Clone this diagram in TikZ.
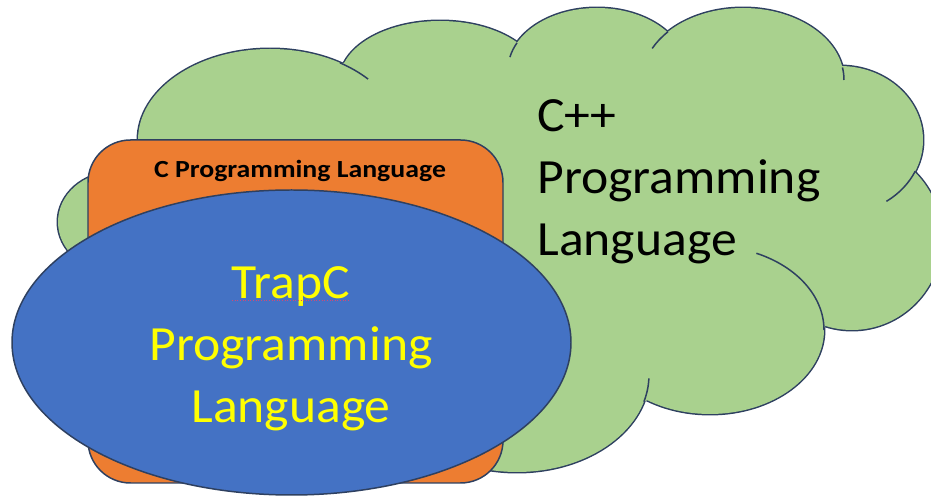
\documentclass[tikz,border=0pt]{standalone}
\usepackage{fontspec}
\setmainfont{Carlito}
\newfontfamily\widefont{Carlito}[FakeStretch=1.05]
\newfontfamily\widerfont{Carlito}[FakeStretch=1.13]
\usepackage{tikz}
\usetikzlibrary{positioning}
\definecolor{puffgreen}{HTML}{A9D18E}
\definecolor{boxorange}{HTML}{ED7D31}
\definecolor{ovalblue}{HTML}{4472C4}
\definecolor{edgenavy}{HTML}{2E4060}
\definecolor{trapyellow}{HTML}{FFFF00}
\definecolor{spellred}{HTML}{D04A78}

\begin{document}
\begin{tikzpicture}[x=0.02cm, y=-0.02cm,
    outline/.style={draw=edgenavy, line width=0.85pt},
    bigtext/.style={font=\widefont\fontsize{28}{35.3}\selectfont, inner sep=0pt}]
    \useasboundingbox (0,0) rectangle (931,496);

    % Cloud puffs: stroke them all first, the fills then hide the inner strokes
    \foreach \cx/\cy/\rx/\ry in {270/140/132/91, 440/80/100/59, 597/70/89/62, 743/80/101/72,
                                 840/140/83/74, 852/238/90/92, 710/330/114/84, 517/375/132/97,
                                 115/222/57/50} {
        \draw[edgenavy, line width=1.7pt] (\cx,\cy) ellipse [x radius=\rx, y radius=\ry];
    }
    \fill[puffgreen] (138,140) -- (346,62) -- (518,43) -- (668,32) -- (843,68) -- (915,172)
        -- (823,330) -- (643,402) -- (517,470) -- (300,420) -- (70,248) -- (90,177) -- cycle;
    \foreach \cx/\cy/\rx/\ry in {270/140/132/91, 440/80/100/59, 597/70/89/62, 743/80/101/72,
                                 840/140/83/74, 852/238/90/92, 710/330/114/84, 517/375/132/97,
                                 115/222/57/50} {
        \fill[puffgreen] (\cx,\cy) ellipse [x radius=\rx, y radius=\ry];
    }

    % Short inner arcs where the puffs overlap
    \foreach \cx/\cy/\rx/\ry/\a/\b in {270/140/132/91/-58/-42, 597/70/89/62/192/206,
                                       743/80/101/72/206/222, 743/80/101/72/-10/0,
                                       840/140/83/74/25/56, 710/330/114/84/-66/0,
                                       517/375/132/97/2/16} {
        \draw[outline] (\cx,\cy) ++(\a:{\rx} and {\ry})
            arc [start angle=\a, end angle=\b, x radius=\rx, y radius=\ry];
    }

    % C box
    \draw[outline, fill=boxorange, rounded corners=0.85cm] (88,140) rectangle (503,483);

    % TrapC oval
    \draw[outline, fill=ovalblue] (291.5,342.5) ellipse [x radius=279.5, y radius=152.5];

    % Labels
    \node[font=\widerfont\fontsize{14}{17}\selectfont\bfseries, inner sep=0pt, anchor=base] (cname) at (300,178) {C Programming Language};
    \node[bigtext, align=left, anchor=north west] (cppname) at (537,99) {C++\\Programming\\Language};
    \node[bigtext, align=center, text=trapyellow, anchor=north] (trapname) at (291,266) {TrapC\\Programming\\Language};

    % spell-check mark under TrapC
    \draw[spellred, line width=0.5pt, densely dotted] (232,300) -- (350,300);

\end{tikzpicture}
\end{document}
